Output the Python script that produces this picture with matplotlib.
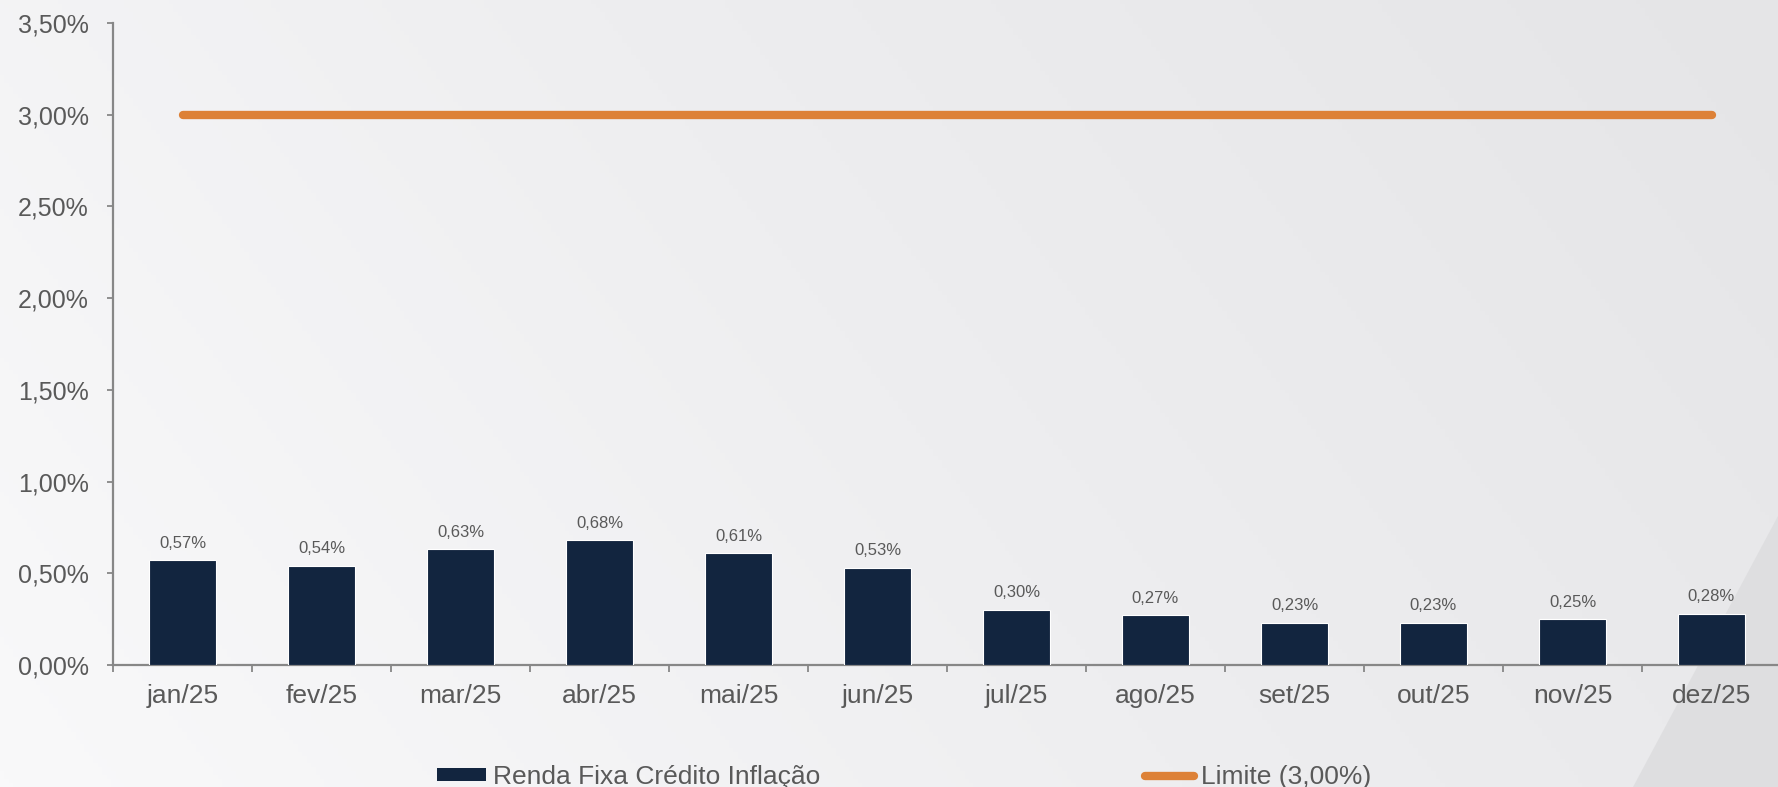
import numpy as np
import matplotlib
matplotlib.use("Agg")
import matplotlib.pyplot as plt
from matplotlib.patches import Patch, Polygon
from matplotlib.lines import Line2D
from matplotlib.colors import LinearSegmentedColormap

plt.rcParams['font.family'] = ['Liberation Sans', 'DejaVu Sans']

categories = ['jan/25', 'fev/25', 'mar/25', 'abr/25', 'mai/25', 'jun/25',
              'jul/25', 'ago/25', 'set/25', 'out/25', 'nov/25', 'dez/25']
renda_fixa = [0.57, 0.54, 0.63, 0.68, 0.61, 0.53, 0.30, 0.27, 0.23, 0.23, 0.25, 0.28]
limite = [3.00] * 12
y_ticks = [0.0, 0.5, 1.0, 1.5, 2.0, 2.5, 3.0, 3.5]

BAR = '#12253f'
ORANGE = '#dd8137'
TXT = '#595959'
SPINE = '#878787'

def pct(v):
    return f"{v:.2f}%".replace('.', ',')

fig = plt.figure(figsize=(17.78, 7.87), dpi=100)

# background gradient
bg = fig.add_axes([0, 0, 1, 1], zorder=-10)
bg.set_axis_off()
xx = np.linspace(0, 1, 400)
yy = np.linspace(0, 1, 200)
X, Y = np.meshgrid(xx, yy)
G = 0.75 * X + 0.25 * (1 - Y)
cmap = LinearSegmentedColormap.from_list('bg', ['#f9f9fa', '#eeeef0', '#e5e5e7'])
bg.imshow(G, extent=[0, 1, 0, 1], origin='upper', cmap=cmap, aspect='auto', vmin=0, vmax=1)
bg.add_patch(Polygon([[1.0, 1 - 516 / 787], [1.0, 0.0], [1633 / 1778, 0.0]],
                     closed=True, facecolor='#dcdcde', edgecolor='none', alpha=0.8))
bg.set_xlim(0, 1)
bg.set_ylim(0, 1)

ax = fig.add_axes([113 / 1778, 122 / 787, 1668 / 1778, 642 / 787])
ax.patch.set_alpha(0)

x = np.arange(len(categories))
bars = ax.bar(x, renda_fixa, width=0.48, color=BAR, edgecolor='white', linewidth=0.8,
              zorder=3, label='Renda Fixa Crédito Inflação')
ax.plot(x, limite, color=ORANGE, linewidth=6, solid_capstyle='round', zorder=4,
        label='Limite (3,00%)')

for xi, v in zip(x, renda_fixa):
    ax.annotate(pct(v), (xi, v), xytext=(0, 9), textcoords='offset points',
                ha='center', va='baseline', fontsize=12, color=TXT)

ax.set_xlim(-0.5, len(categories) - 0.5)
ax.set_ylim(0, 3.5)
ax.set_yticks(y_ticks)
ax.set_yticklabels([pct(v) for v in y_ticks])
ax.set_xticks(np.arange(-0.5, len(categories)))
ax.set_xticklabels([])
ax.set_xticks(x, minor=True)
ax.set_xticklabels(categories, minor=True)

ax.tick_params(axis='y', which='major', direction='out', length=4.5, width=1.3,
               color=SPINE, labelsize=18, labelcolor=TXT, pad=13)
ax.tick_params(axis='x', which='major', direction='out', length=5, width=1.3, color=SPINE)
ax.tick_params(axis='x', which='minor', length=0, labelsize=19, labelcolor=TXT, pad=13.5)

for s in ['top', 'right']:
    ax.spines[s].set_visible(False)
for s in ['left', 'bottom']:
    ax.spines[s].set_color(SPINE)
    ax.spines[s].set_linewidth(1.6)

handles = [Patch(facecolor=BAR, edgecolor='none', label='Renda Fixa Crédito Inflação'),
           Line2D([0], [0], color=ORANGE, linewidth=6, solid_capstyle='round',
                  label='Limite (3,00%)')]
leg = fig.legend(handles=handles, ncol=2, loc='center left',
                 bbox_to_anchor=(437 / 1778, 10 / 787), frameon=False,
                 fontsize=19, labelcolor=TXT, handlelength=1.85, handleheight=0.42,
                 handletextpad=0.28, columnspacing=12.3, borderaxespad=0, borderpad=0)

fig.savefig('out.png', dpi=100)
